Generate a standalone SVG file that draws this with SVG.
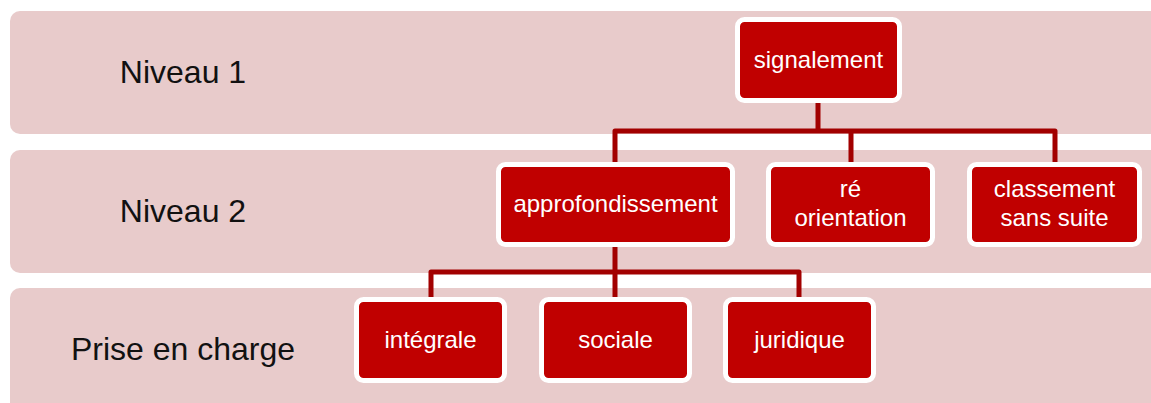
<svg xmlns="http://www.w3.org/2000/svg" width="1151" height="403" viewBox="0 0 1151 403">
<style>
.band{fill:#E8CBCB}
.lbl{font-family:"Liberation Sans",Arial,sans-serif;font-size:32px;fill:#111;text-anchor:middle}
.box{fill:#C00000;stroke:#FFFFFF;stroke-width:5}
.txt{font-family:"Liberation Sans",Arial,sans-serif;font-size:24px;fill:#FFFFFF;text-anchor:middle}
.con{fill:none;stroke:#A20000;stroke-width:5;stroke-linejoin:round}
</style>
<rect width="1151" height="403" fill="#FFFFFF"/>
<g id="band1"><rect class="band" x="10" y="11" width="1160" height="123" rx="10"/><text class="lbl" x="183" y="83">Niveau 1</text></g>
<g id="band2"><rect class="band" x="10" y="150" width="1160" height="123" rx="10"/><text class="lbl" x="183" y="222">Niveau 2</text></g>
<g id="band3"><rect class="band" x="10" y="288" width="1160" height="140" rx="10"/><text class="lbl" x="183" y="360">Prise en charge</text></g>
<g id="connectors">
<path class="con" d="M818 103V131M615 162V131H1055V162M851 131V162"/>
<path class="con" d="M615 247V272M431 297V272H799V297M615 272V297"/>
</g>
<g id="signalement"><rect class="box" x="737.5" y="19.5" width="162" height="81" rx="7"/><text class="txt" x="818.5" y="68">signalement</text></g>
<g id="approfondissement"><rect class="box" x="498.5" y="164.5" width="234" height="80" rx="7"/><text class="txt" x="615.5" y="212">approfondissement</text></g>
<g id="reorientation"><rect class="box" x="768.5" y="164.5" width="164" height="80" rx="7"/><text class="txt" x="850.5" y="197">ré</text><text class="txt" x="850.5" y="226">orientation</text></g>
<g id="classement"><rect class="box" x="969.5" y="164.5" width="170" height="80" rx="7"/><text class="txt" x="1054.5" y="197">classement</text><text class="txt" x="1054.5" y="226">sans suite</text></g>
<g id="integrale"><rect class="box" x="356.5" y="299.5" width="148" height="81" rx="7"/><text class="txt" x="430.5" y="348">intégrale</text></g>
<g id="sociale"><rect class="box" x="541.5" y="299.5" width="148" height="81" rx="7"/><text class="txt" x="615.5" y="348">sociale</text></g>
<g id="juridique"><rect class="box" x="725.5" y="299.5" width="148" height="81" rx="7"/><text class="txt" x="799.5" y="348">juridique</text></g>
</svg>
